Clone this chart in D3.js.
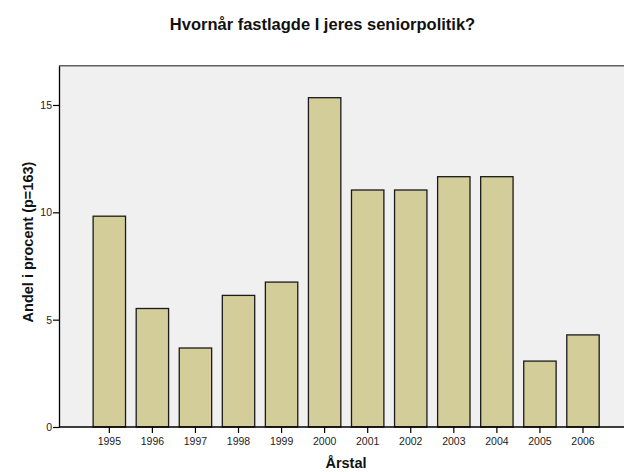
<!DOCTYPE html>
<html>
<head>
<meta charset="utf-8">
<script src="https://cdn.jsdelivr.net/npm/d3@7"></script>
<style>
html, body { margin: 0; padding: 0; background: #fff; }
svg { display: block; font-family: "Liberation Sans", Arial, sans-serif; }
</style>
</head>
<body>
<svg id="chart" width="624" height="472"></svg>
<script>
const years = ["1995","1996","1997","1998","1999","2000","2001","2002","2003","2004","2005","2006"];
const percents = [9.82, 5.52, 3.68, 6.13, 6.75, 15.34, 11.04, 11.04, 11.66, 11.66, 3.07, 4.29];
const yTicks = [0, 5, 10, 15];
const titleText = "Hvornår fastlagde I jeres seniorpolitik?";
const xTitle = "Årstal";
const yTitle = "Andel i procent (p=163)";

const svg = d3.select("#chart");
const plot = { left: 59, top: 65.7, right: 630, bottom: 427 };

const x = d3.scaleBand()
  .domain(years)
  .range([87.8, 87.8 + 12 * 43.06])
  .paddingInner(0.2476)
  .paddingOuter(0.1238);

const y = d3.scaleLinear()
  .domain([0, 16.83])
  .range([plot.bottom, plot.top]);

// background
svg.append("rect")
  .attr("x", plot.left).attr("y", plot.top)
  .attr("width", plot.right - plot.left).attr("height", plot.bottom - plot.top)
  .attr("fill", "#f0f0f0");

// top border
svg.append("line")
  .attr("x1", plot.left).attr("x2", plot.right)
  .attr("y1", plot.top).attr("y2", plot.top)
  .attr("stroke", "#606060").attr("stroke-width", 1.5);

// bars
svg.append("g").selectAll("rect")
  .data(years.map((yr, i) => ({ yr, v: percents[i] })))
  .join("rect")
  .attr("x", d => x(d.yr))
  .attr("y", d => y(d.v))
  .attr("width", x.bandwidth())
  .attr("height", d => y(0) - y(d.v))
  .attr("fill", "#d3ce99")
  .attr("stroke", "#1a1a1a")
  .attr("stroke-width", 1.3);

// y axis
const yAxis = svg.append("g")
  .attr("transform", `translate(${plot.left},0)`)
  .call(d3.axisLeft(y).tickValues(yTicks).tickSize(6).tickSizeOuter(0).tickFormat(d3.format("d")));
yAxis.select(".domain").attr("stroke", "#000").attr("stroke-width", 1.3);
yAxis.selectAll(".tick line").attr("stroke", "#000").attr("stroke-width", 1.2);
yAxis.selectAll(".tick text").attr("font-size", "10.5px").attr("fill", "#222")
  .attr("font-family", "Liberation Sans, Arial, sans-serif").attr("x", -7);

// x axis
const xAxis = svg.append("g")
  .attr("transform", `translate(0,${plot.bottom})`)
  .call(d3.axisBottom(x).tickSize(6).tickSizeOuter(0));
xAxis.select(".domain").attr("d", `M${plot.left},0H${plot.right}`).attr("stroke", "#000").attr("stroke-width", 1.5);
xAxis.selectAll(".tick line").attr("stroke", "#000").attr("stroke-width", 1.2);
xAxis.selectAll(".tick text").attr("font-size", "10.5px").attr("fill", "#222")
  .attr("font-family", "Liberation Sans, Arial, sans-serif").attr("y", 11);

// title
svg.append("text")
  .attr("x", 322.5).attr("y", 30)
  .attr("text-anchor", "middle")
  .attr("font-size", "16.5px").attr("font-weight", "bold").attr("fill", "#111")
  .text(titleText);

// x title
svg.append("text")
  .attr("x", 346).attr("y", 468)
  .attr("text-anchor", "middle")
  .attr("font-size", "14.5px").attr("font-weight", "bold").attr("fill", "#111")
  .text(xTitle);

// y title
svg.append("text")
  .attr("transform", "translate(33,242) rotate(-90)")
  .attr("text-anchor", "middle")
  .attr("font-size", "14.5px").attr("font-weight", "bold").attr("fill", "#111")
  .text(yTitle);
</script>
</body>
</html>
